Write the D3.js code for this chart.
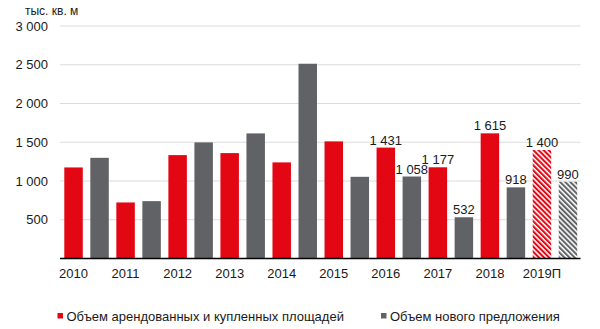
<!DOCTYPE html>
<html>
<head>
<meta charset="utf-8">
<script src="https://cdn.jsdelivr.net/npm/d3@7"></script>
<style>
html,body{margin:0;padding:0;background:#fff;}
svg{display:block;font-family:"Liberation Sans",Arial,sans-serif;}
</style>
</head>
<body>
<svg id="chart" width="600" height="329"></svg>
<script>
const years = ['2010','2011','2012','2013','2014','2015','2016','2017','2018','2019П'];
const leased = [1175, 723, 1334, 1360, 1240, 1511, 1431, 1177, 1615, 1400];
const newSupply = [1299, 740, 1498, 1614, 2513, 1054, 1058, 532, 918, 990];
const yTicks = [500, 1000, 1500, 2000, 2500, 3000];
const labelFrom = 6;          // value labels shown from 2016 on
const forecastIndex = 9;      // 2019П is hatched
const seriesNames = ['Объем арендованных и купленных площадей', 'Объем нового предложения'];
const unitLabel = 'тыс. кв. м';

(function () {
const RED = '#e30613', GRAY = '#616265';
const svg = d3.select('#chart');
const mLeft = 60, mRight = 581.5, mTop = 26, mBottom = 258.5;

const fmt = d3.formatLocale({decimal: ',', thousands: '\u00a0', grouping: [3], currency: ['', '']}).format(',d');

const slots = [];
years.forEach(yr => { slots.push(yr + '|a'); slots.push(yr + '|b'); });
const x = d3.scaleBand().domain(slots).range([mLeft, mRight]).paddingInner(0.29).paddingOuter(0.165);
const y = d3.scaleLinear().domain([0, 3000]).range([mBottom, mTop]);

const defs = svg.append('defs');
[['hatchRed', RED], ['hatchGray', GRAY]].forEach(([id, c]) => {
  const p = defs.append('pattern').attr('id', id).attr('patternUnits', 'userSpaceOnUse')
    .attr('width', 3.6).attr('height', 3.6).attr('patternTransform', 'rotate(-45)');
  p.append('rect').attr('width', 3.6).attr('height', 3.6).attr('fill', '#fff');
  p.append('line').attr('x1', 1).attr('x2', 1).attr('y1', 0).attr('y2', 3.6)
    .attr('stroke', c).attr('stroke-width', 2.1);
});

svg.append('g').attr('class', 'grid')
  .selectAll('line').data(yTicks).join('line')
  .attr('x1', mLeft).attr('x2', mRight - 1)
  .attr('y1', d => y(d)).attr('y2', d => y(d))
  .attr('stroke', '#dcdcdc').attr('stroke-width', 1.2);

const yAxis = d3.axisLeft(y).tickValues(yTicks).tickSize(0).tickPadding(12).tickFormat(fmt);
const gy = svg.append('g').attr('transform', `translate(${mLeft},0)`).call(yAxis);
gy.select('.domain').remove();
gy.selectAll('text').attr('font-size', 13).attr('fill', '#1a1a1a').attr('font-family', '"Liberation Sans",Arial,sans-serif');

svg.append('text').attr('x', 25).attr('y', 15).attr('font-size', 12).attr('fill', '#1a1a1a').text(unitLabel);

const barData = [];
years.forEach((yr, i) => {
  barData.push({key: yr + '|a', v: leased[i], s: 0, i});
  barData.push({key: yr + '|b', v: newSupply[i], s: 1, i});
});
svg.append('g').selectAll('rect').data(barData).join('rect')
  .attr('x', d => x(d.key)).attr('width', x.bandwidth())
  .attr('y', d => y(d.v)).attr('height', d => y(0) - y(d.v))
  .attr('fill', d => d.i === forecastIndex ? (d.s === 0 ? 'url(#hatchRed)' : 'url(#hatchGray)') : (d.s === 0 ? RED : GRAY));

svg.append('g').selectAll('text').data(barData.filter(d => d.i >= labelFrom)).join('text')
  .attr('x', d => x(d.key) + x.bandwidth() / 2).attr('y', d => y(d.v) - 3)
  .attr('text-anchor', 'middle').attr('font-size', 13).attr('fill', '#1a1a1a')
  .text(d => fmt(d.v));

const xAxis = d3.axisBottom(x).tickValues(years.map(yr => yr + '|a')).tickSize(0).tickPadding(10)
  .tickFormat(d => d.split('|')[0]);
const gx = svg.append('g').attr('transform', `translate(0,${mBottom})`).call(xAxis);
gx.select('.domain').attr('stroke', '#000').attr('stroke-width', 1.3).attr('d', `M${mLeft},0H${mRight - 1}`);
gx.selectAll('text').attr('font-size', 13).attr('fill', '#1a1a1a').attr('font-family', '"Liberation Sans",Arial,sans-serif');

const legendX = [57.5, 381];
seriesNames.forEach((n, i) => {
  const g = svg.append('g').attr('transform', `translate(${legendX[i]},313)`);
  g.append('rect').attr('width', 5.5).attr('height', 5.5).attr('fill', i === 0 ? RED : GRAY);
  g.append('text').attr('x', 9).attr('y', 8).attr('font-size', 13).attr('fill', '#1a1a1a').text(n);
});
})();
</script>
</body>
</html>
